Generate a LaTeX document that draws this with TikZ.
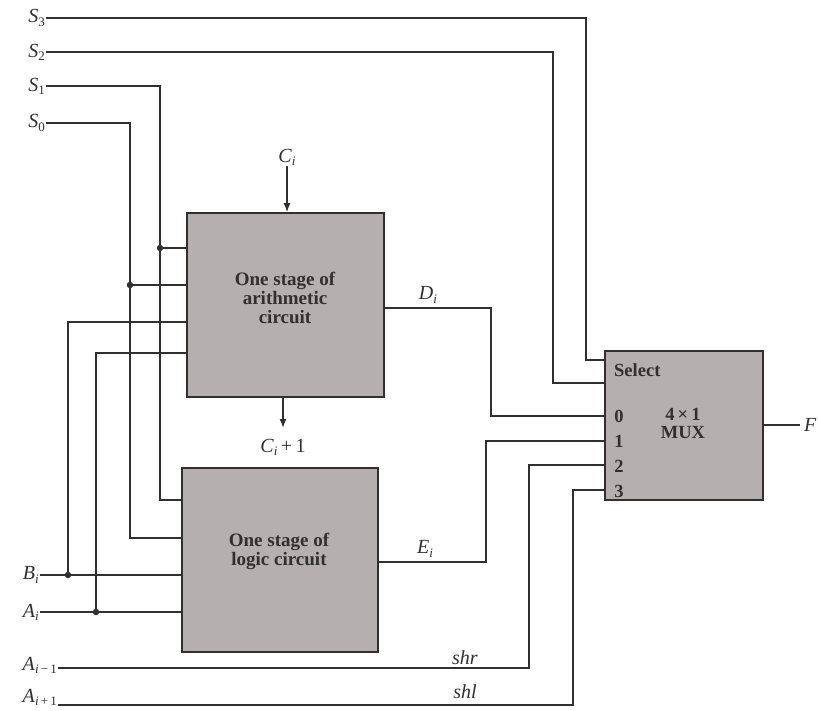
\documentclass[tikz,border=0pt]{standalone}
\usepackage{fontspec}
\setmainfont{Liberation Serif}
\usetikzlibrary{arrows.meta}
\definecolor{boxfill}{RGB}{182,175,175}
\definecolor{ink}{RGB}{50,47,47}
\newcommand{\sig}[2]{\textit{#1}\raisebox{-0.35ex}{\fontsize{13}{13}\selectfont #2}}
\begin{document}
\begin{tikzpicture}[x=1pt,y=-1pt,
  wire/.style={draw=ink, line width=1.4pt},
  arrowwire/.style={wire, -{Latex[length=9pt,width=7pt]}},
  blockbox/.style={draw=ink, line width=1.6pt, fill=boxfill, inner sep=0pt},
  blocktext/.style={text=ink, align=center, font=\fontsize{19}{19}\selectfont\bfseries},
  lbl/.style={text=ink, inner sep=1pt, font=\fontsize{20}{21}\selectfont},
  inlbl/.style={text=ink, inner sep=0pt, font=\fontsize{18.5}{19}\selectfont\bfseries},
  dotn/.style={circle, fill=ink, inner sep=0pt, minimum size=6.5pt}]
\useasboundingbox (0,0) rectangle (818,710);

% blocks
\node[blockbox, minimum width=197pt, minimum height=184pt] (arith) at (285.5,305) {};
\node[blocktext] (arithtxt) at (285,298) {One stage of\\arithmetic\\circuit};
\node[blockbox, minimum width=196pt, minimum height=184pt] (logic) at (280,560) {};
\node[blocktext] (logictxt) at (279,551) {One stage of\\logic circuit};
\node[blockbox, minimum width=158pt, minimum height=149pt] (mux) at (684,425.5) {};
\node[inlbl, anchor=west] (sel) at (614,370) {Select};
\node[inlbl] (n0) at (619,416) {0};
\node[inlbl] (n1) at (619,441) {1};
\node[inlbl] (n2) at (619,466) {2};
\node[inlbl] (n3) at (619,491) {3};
\node[inlbl, align=center, font=\fontsize{18.5}{18}\selectfont\bfseries] (muxtxt) at (683,423) {4\,×\,1\\MUX};

% mux input points
\coordinate (ms3) at (605,360);
\coordinate (ms2) at (605,383);
\coordinate (m0) at (605,416);
\coordinate (m1) at (605,441);
\coordinate (m2) at (605,465);
\coordinate (m3) at (605,490);

% input labels
\node[lbl, anchor=east] (s3) at (46,18) {\sig{S}{3}};
\node[lbl, anchor=east] (s2) at (46,52) {\sig{S}{2}};
\node[lbl, anchor=east] (s1) at (46,86) {\sig{S}{1}};
\node[lbl, anchor=east] (s0) at (46,123) {\sig{S}{0}};
\node[lbl, anchor=east] (bi) at (40,575) {\sig{B}{\itshape i}};
\node[lbl, anchor=east] (ai) at (40,612) {\sig{A}{\itshape i}};
\node[lbl, anchor=east] (am1) at (58,665) {\sig{A}{\itshape i\,{\upshape−}\,\upshape 1}};
\node[lbl, anchor=east] (ap1) at (58,697) {\sig{A}{\itshape i\,{\upshape +}\,\upshape 1}};

% select lines to mux
\draw[wire] (s3.east) -- (586,18) -- (586,360) -- (ms3);
\draw[wire] (s2.east) -- (553,52) -- (553,383) -- (ms2);

% S1, S0
\node[dotn] (j1) at (160,248) {};
\node[dotn] (j0) at (130,285) {};
\draw[wire] (s1.east) -- (160,86) -- (160,500) -- (logic.west |- 160,500);
\draw[wire] (s0.east) -- (130,123) -- (130,538) -- (logic.west |- 130,538);
\draw[wire] (j1) -- (arith.west |- j1);
\draw[wire] (j0) -- (arith.west |- j0);

% B_i, A_i
\node[dotn] (jb) at (68,575) {};
\node[dotn] (ja) at (96,612) {};
\draw[wire] (bi.east) -- (logic.west |- bi.east);
\draw[wire] (ai.east) -- (logic.west |- ai.east);
\draw[wire] (jb) -- (68,322) -- (arith.west |- 68,322);
\draw[wire] (ja) -- (96,353) -- (arith.west |- 96,353);

% carries
\node[lbl] (ci) at (287,157) {\sig{C}{\itshape i}};
\draw[arrowwire] (ci.south) -- (ci.south |- arith.north);
\coordinate (cout) at (283,428);
\node[lbl] (ci1) at (283,447) {\sig{C}{\itshape i}\,+\,1};
\draw[arrowwire] (arith.south -| cout) -- (cout);

% outputs to mux
\draw[wire] (arith.east |- 0,308) -- (491,308) -- (491,416) -- (m0);
\node[lbl] (di) at (428,295) {\sig{D}{\itshape i}};
\draw[wire] (logic.east |- 0,562) -- (486,562) -- (486,441) -- (m1);
\node[lbl] (ei) at (425,549) {\sig{E}{\itshape i}};

% shift lines
\draw[wire] (am1.east |- 0,668) -- (529,668) -- (529,465) -- (m2);
\node[lbl] (shr) at (465,658) {\textit{shr}};
\draw[wire] (ap1.east |- 0,705) -- (573,705) -- (573,490) -- (m3);
\node[lbl] (shl) at (465,692) {\textit{shl}};

% output
\coordinate (fo) at (800,425);
\draw[wire] (mux.east |- fo) -- (fo);
\node[lbl, anchor=west] (F) at (803,425) {\textit{F}};
\end{tikzpicture}
\end{document}
